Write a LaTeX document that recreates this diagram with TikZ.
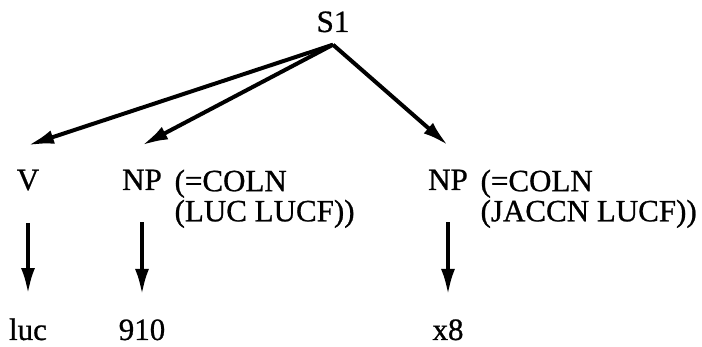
\documentclass[tikz,border=0pt]{standalone}
\usepackage{fontspec}
\setmainfont{Liberation Serif}[FakeBold=0.8]
\usetikzlibrary{arrows.meta}

\tikzset{
  cat/.style={inner xsep=2pt, inner ysep=12pt, font=\fontsize{15.5}{11.5}\selectfont},
  note/.style={cat, align=left},
  ramo/.style={-{Latex[length=13pt,width=7pt]}, line width=2pt},
}

\begin{document}
\begin{tikzpicture}[x=0.5pt,y=0.5pt]
  \useasboundingbox (0,0) rectangle (702,347);

  % Radice
  \node[cat, anchor=base] (s1) at (333,315) {S1};
  \coordinate (top) at ([yshift=6pt]s1.south);

  % Categorie
  \node[cat, anchor=base] (v) at (28,157) {V};
  \node[cat, anchor=base] (np1) at (142,157) {NP};
  \node[cat, anchor=base] (np2) at (448,157) {NP};

  % Annotazioni
  \node[note, anchor=north west] (c1) at ([xshift=2pt]np1.north east) {(=COLN\\(LUC LUCF))};
  \node[note, anchor=north west] (c2) at ([xshift=2pt]np2.north east) {(=COLN\\(JACCN LUCF))};

  % Foglie
  \node[cat, anchor=base] (luc) at (28,7) {luc};
  \node[cat, anchor=base] (n910) at (142,7) {910};
  \node[cat, anchor=base] (x8) at (448,7) {x8};

  % Rami
  \draw[ramo] (top) -- (v.north);
  \draw[ramo] (top) -- (np1.north);
  \draw[ramo] (top) -- (np2.north);
  \draw[ramo, shorten <=4pt] (v) -- (luc);
  \draw[ramo, shorten <=4pt] (np1) -- (n910);
  \draw[ramo, shorten <=4pt] (np2) -- (x8);
\end{tikzpicture}
\end{document}
